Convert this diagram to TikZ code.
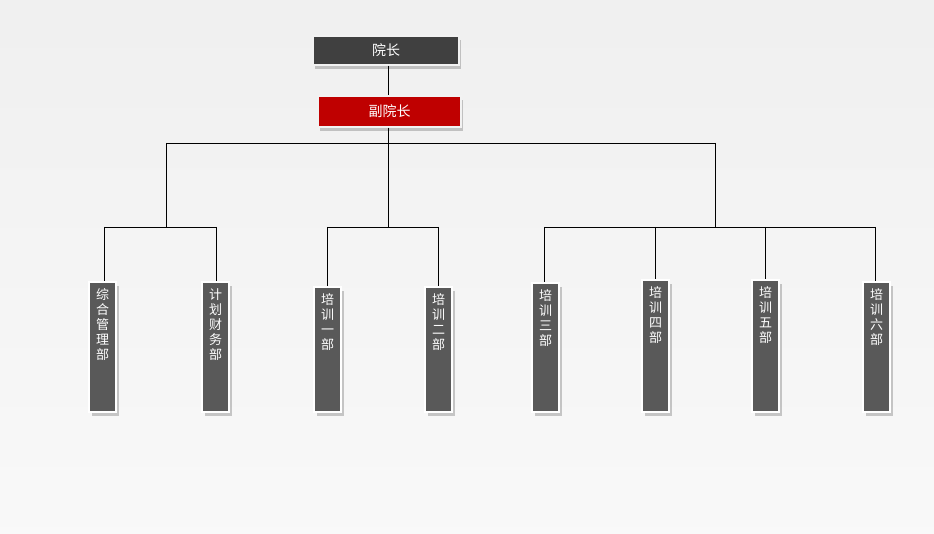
\documentclass[tikz,border=0pt]{standalone}
\usepackage{fontspec}
\newfontfamily\cjk{Noto Sans CJK SC}
\usetikzlibrary{shadows}
\begin{document}
\begin{tikzpicture}[x=1pt,y=-1pt,
  top/.style={draw=white!90!gray,line width=1.5pt,text=white,font=\cjk\fontsize{14}{16}\selectfont,drop shadow={shadow xshift=2pt,shadow yshift=-4pt,opacity=0.2,fill=black}},
  dept/.style={draw=white,line width=1.5pt,fill=black!65,text=white,minimum width=27pt,minimum height=130pt,inner sep=0pt,drop shadow={shadow xshift=3pt,shadow yshift=-4pt,opacity=0.2,fill=black}},
  dtext/.style={text=white,font=\cjk\fontsize{13}{15}\selectfont,align=center,anchor=north,inner sep=0pt},
  ln/.style={draw=black,line width=0.6pt}]
\shade[top color=white!88!gray,bottom color=white!95!gray] (0,0) rectangle (934,534);
\useasboundingbox (0,0) rectangle (934,534);
\node[top,fill=black!75,minimum width=146pt,minimum height=29pt] (yz) at (386,50.5) {院长};
\node[top,fill=red!75!black,minimum width=143pt,minimum height=31pt] (fyz) at (389.5,111.5) {副院长};
\coordinate (h0) at (388,143);
\coordinate (hl) at (166,143); \coordinate (hr) at (715,143);
\coordinate (a) at (166,227); \coordinate (b) at (388,227); \coordinate (c) at (715,227);
\draw[ln] (yz.south -| h0) -- (fyz.north -| h0);
\draw[ln] (fyz.south -| h0) -- (h0);
\draw[ln] (hl) -- (hr);
\draw[ln] (hl) -- (a); \draw[ln] (h0) -- (b); \draw[ln] (hr) -- (c);
\foreach \n/\x/\t/\y in {d1/102.5/综\\合\\管\\理\\部/347, d2/215.5/计\\划\\财\\务\\部/347, d3/327.5/培\\训\\一\\部/349.5, d4/438.5/培\\训\\二\\部/349.5, d5/545.5/培\\训\\三\\部/347.5, d6/655.5/培\\训\\四\\部/346, d7/765.5/培\\训\\五\\部/346, d8/876.5/培\\训\\六\\部/347}{
  \node[dept,minimum height={2*(412-\y)}] (\n) at (\x,\y) {};
  \node[dtext] at ([yshift=-7pt]\n.north) {\t};
}
\coordinate (l1) at (104,227); \coordinate (r1) at (216,227);
\coordinate (l2) at (327,227); \coordinate (r2) at (438,227);
\coordinate (l3) at (544,227); \coordinate (r3) at (875,227);
\draw[ln] (l1)--(r1); \draw[ln] (l2)--(r2); \draw[ln] (l3)--(r3);
\foreach \n/\x in {d1/104,d2/216,d3/327,d4/438,d5/544,d6/655,d7/765,d8/875}
  \draw[ln] (\x,227) -- (\n.north -| {\x,0});
\end{tikzpicture}
\end{document}
